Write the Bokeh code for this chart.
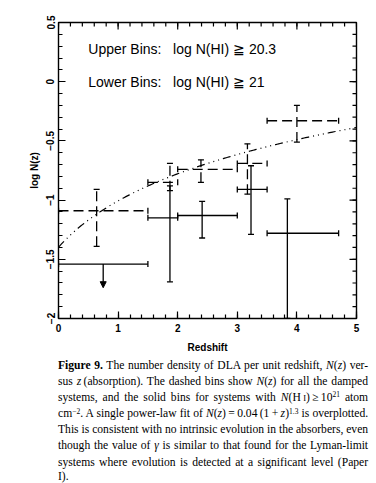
import math
import numpy as np
from bokeh.plotting import figure
from bokeh.models import (ColumnDataSource, Label, Arrow, NormalHead,
                          Div, FixedTicker, Range1d)
from bokeh.layouts import column
from bokeh.embed import file_html
from bokeh.resources import INLINE

# ---- data ----
# Upper bins: log N(HI) >= 20.3 (dashed)
upper_z_lo = [0.0, 1.5, 2.0, 3.0, 3.5]
upper_z_hi = [1.5, 2.0, 3.0, 3.5, 4.7]
upper_z = [0.64, 1.87, 2.39, 3.17, 4.00]
upper_logN = [-1.09, -0.85, -0.74, -0.69, -0.33]
upper_err_top = [-0.91, -0.69, -0.66, -0.525, -0.20]
upper_err_bot = [-1.39, -0.92, -0.85, -0.95, -0.51]

# Lower bins: log N(HI) >= 21 (solid); first bin is an upper limit
lower_z_lo = [0.0, 1.5, 2.0, 3.0, 3.5]
lower_z_hi = [1.5, 2.0, 3.0, 3.5, 4.7]
lower_z = [0.75, 1.87, 2.41, 3.23, 3.84]
lower_logN = [-1.54, -1.15, -1.13, -0.91, -1.28]
lower_err_top = [-1.54, -0.88, -1.01, -0.71, -0.99]
lower_err_bot = [-1.74, -1.69, -1.32, -1.29, -2.00]
lower_is_limit = [True, False, False, False, False]

# Power-law fit N(z) = A (1+z)^gamma
fit_A = 0.04
fit_gamma = 1.3

x_ticks = [0, 1, 2, 3, 4, 5]
x_minor = [i * 0.2 for i in range(26)]
y_ticks = [0.5, 0, -0.5, -1, -1.5, -2]
y_minor = [-2 + i * 0.1 for i in range(26)]
y_tick_labels = ["0.5", "0", "\u22120.5", "\u22121", "\u22121.5", "\u22122"]

SUP = "<span style='position:relative;top:-0.5em;font-size:7.5px;line-height:0'>{}</span>"
caption_lines = [
    "<b>Figure 9.</b> The number density of DLA per unit redshift, <i>N</i>(<i>z</i>) ver-",
    "sus <i>z</i>&thinsp;(absorption). The dashed bins show <i>N</i>(<i>z</i>) for all the damped",
    "systems, and the solid bins for systems with <i>N</i>(H&thinsp;<span style='font-size:8.5px'>I</span>)&thinsp;&ge;&thinsp;10"
    + SUP.format("21") + " atom",
    "cm" + SUP.format("&minus;2") + ". A single power-law fit of <i>N</i>(<i>z</i>)&thinsp;=&thinsp;0.04&thinsp;(1&thinsp;+&thinsp;<i>z</i>)"
    + SUP.format("1.3") + " is overplotted.",
    "This is consistent with no intrinsic evolution in the absorbers, even",
    "though the value of <i>&gamma;</i> is similar to that found for the Lyman-limit",
    "systems where evolution is detected at a significant level (Paper",
    "I).",
]

FONT = "Liberation Sans"

p = figure(width=368, height=356, output_backend="svg", toolbar_location=None,
           x_range=Range1d(0, 5), y_range=Range1d(-2, 0.5),
           min_border_left=58, min_border_right=12, min_border_top=22,
           min_border_bottom=38)
p.outline_line_color = "black"
p.outline_line_width = 1.4
p.xgrid.visible = False
p.ygrid.visible = False

def style_axis(ax):
    ax.major_tick_in = 7
    ax.major_tick_out = 0
    ax.minor_tick_in = 4
    ax.minor_tick_out = 0
    ax.axis_line_color = None
    ax.major_tick_line_color = "black"
    ax.minor_tick_line_color = "black"
    ax.major_tick_line_width = 1.2
    ax.minor_tick_line_width = 1.2
    ax.major_label_text_font = FONT
    ax.major_label_text_font_size = "10px"
    ax.major_label_text_font_style = "bold"
    ax.major_label_text_color = "black"
    ax.axis_label_text_font = FONT
    ax.axis_label_text_font_size = "10px"
    ax.axis_label_text_font_style = "bold"
    ax.axis_label_text_color = "black"

xax = p.xaxis[0]
xax.ticker = FixedTicker(ticks=x_ticks, minor_ticks=x_minor)
xax.axis_label = "Redshift"
style_axis(xax)
xax.major_label_standoff = 5
xax.axis_label_standoff = 7

yax = p.yaxis[0]
yax.ticker = FixedTicker(ticks=y_ticks, minor_ticks=y_minor)
yax.major_label_overrides = {t: l for t, l in zip(y_ticks, y_tick_labels)}
yax.axis_label = "log N(z)"
style_axis(yax)
yax.major_label_orientation = "vertical"
yax.major_label_standoff = 4
yax.axis_label_standoff = 4

# mirrored inward ticks on top and right edges (markers centred on the frame edge, clipped)
LWT = 1.2
p.scatter(x=x_ticks, y=[0.5] * len(x_ticks), marker="dash", size=14, angle=math.pi / 2,
          line_color="black", line_width=LWT)
p.scatter(x=x_minor, y=[0.5] * len(x_minor), marker="dash", size=8, angle=math.pi / 2,
          line_color="black", line_width=LWT)
p.scatter(x=[5] * len(y_ticks), y=y_ticks, marker="dash", size=14,
          line_color="black", line_width=LWT)
p.scatter(x=[5] * len(y_minor), y=y_minor, marker="dash", size=8,
          line_color="black", line_width=LWT)

LW = 1.3
CAP = 6

# ---- dashed (upper) bins ----
up = ColumnDataSource(dict(lo=upper_z_lo, hi=upper_z_hi, z=upper_z, y=upper_logN,
                           top=upper_err_top, bot=upper_err_bot))
p.segment(x0="lo", y0="y", x1="hi", y1="y", source=up, line_color="black",
          line_width=LW, line_dash="10 5")
p.segment(x0="z", y0="bot", x1="z", y1="top", source=up, line_color="black",
          line_width=LW, line_dash="10 5")
p.scatter(x="lo", y="y", source=up, marker="dash", size=CAP, angle=math.pi / 2,
          line_color="black", line_width=LW)
p.scatter(x="hi", y="y", source=up, marker="dash", size=CAP, angle=math.pi / 2,
          line_color="black", line_width=LW)
p.scatter(x="z", y="top", source=up, marker="dash", size=CAP, line_color="black", line_width=LW)
p.scatter(x="z", y="bot", source=up, marker="dash", size=CAP, line_color="black", line_width=LW)

# ---- solid (lower) bins ----
lw_src = ColumnDataSource(dict(lo=lower_z_lo, hi=lower_z_hi, z=lower_z, y=lower_logN,
                               top=lower_err_top, bot=lower_err_bot))
p.segment(x0="lo", y0="y", x1="hi", y1="y", source=lw_src, line_color="black", line_width=LW)
p.scatter(x="lo", y="y", source=lw_src, marker="dash", size=CAP, angle=math.pi / 2,
          line_color="black", line_width=LW)
p.scatter(x="hi", y="y", source=lw_src, marker="dash", size=CAP, angle=math.pi / 2,
          line_color="black", line_width=LW)

err_idx = [i for i, lim in enumerate(lower_is_limit) if not lim]
err_src = ColumnDataSource(dict(z=[lower_z[i] for i in err_idx],
                                top=[lower_err_top[i] for i in err_idx],
                                bot=[lower_err_bot[i] for i in err_idx]))
p.segment(x0="z", y0="bot", x1="z", y1="top", source=err_src, line_color="black", line_width=LW)
p.scatter(x="z", y="top", source=err_src, marker="dash", size=CAP, line_color="black", line_width=LW)
p.scatter(x="z", y="bot", source=err_src, marker="dash", size=CAP, line_color="black", line_width=LW)

for i, lim in enumerate(lower_is_limit):
    if lim:
        p.add_layout(Arrow(end=NormalHead(size=6, fill_color="black", line_color="black"),
                           x_start=lower_z[i], y_start=lower_logN[i],
                           x_end=lower_z[i], y_end=lower_err_bot[i],
                           line_color="black", line_width=LW))

# ---- power-law fit ----
zz = np.linspace(0, 5, 200)
p.line(zz, np.log10(fit_A) + fit_gamma * np.log10(1 + zz), line_color="black",
       line_width=1.2, line_dash="8 4 1 4 1 4 1 4")

# ---- annotations ----
p.add_layout(Label(x=0.5, y=0.28, text="Upper Bins:\u00a0\u00a0 log N(HI) \u2267 20.3",
                   text_font=FONT, text_font_size="14px", text_baseline="middle",
                   text_color="black"))
p.add_layout(Label(x=0.5, y=-0.005, text="Lower Bins:\u00a0\u00a0 log N(HI) \u2267 21",
                   text_font=FONT, text_font_size="14px", text_baseline="middle",
                   text_color="black"))

html_lines = []
n_lines = len(caption_lines)
for k, ln in enumerate(caption_lines):
    last = "justify" if k < n_lines - 1 else "left"
    h = "16.1px" if k < n_lines - 1 else "12px"
    html_lines.append(
        f"<div style='white-space:nowrap;text-align:justify;height:{h};"
        f"line-height:{h};text-align-last:{last};'>{ln}</div>")
caption = Div(text="".join(html_lines), width=303, margin=(2, 0, 0, 58),
              styles={"font-family": "Liberation Serif", "font-size": "11.6px",
                      "line-height": "16.1px", "color": "black"})

layout = column(p, caption, spacing=0)
open("out.html", "w").write(file_html(layout, INLINE))
